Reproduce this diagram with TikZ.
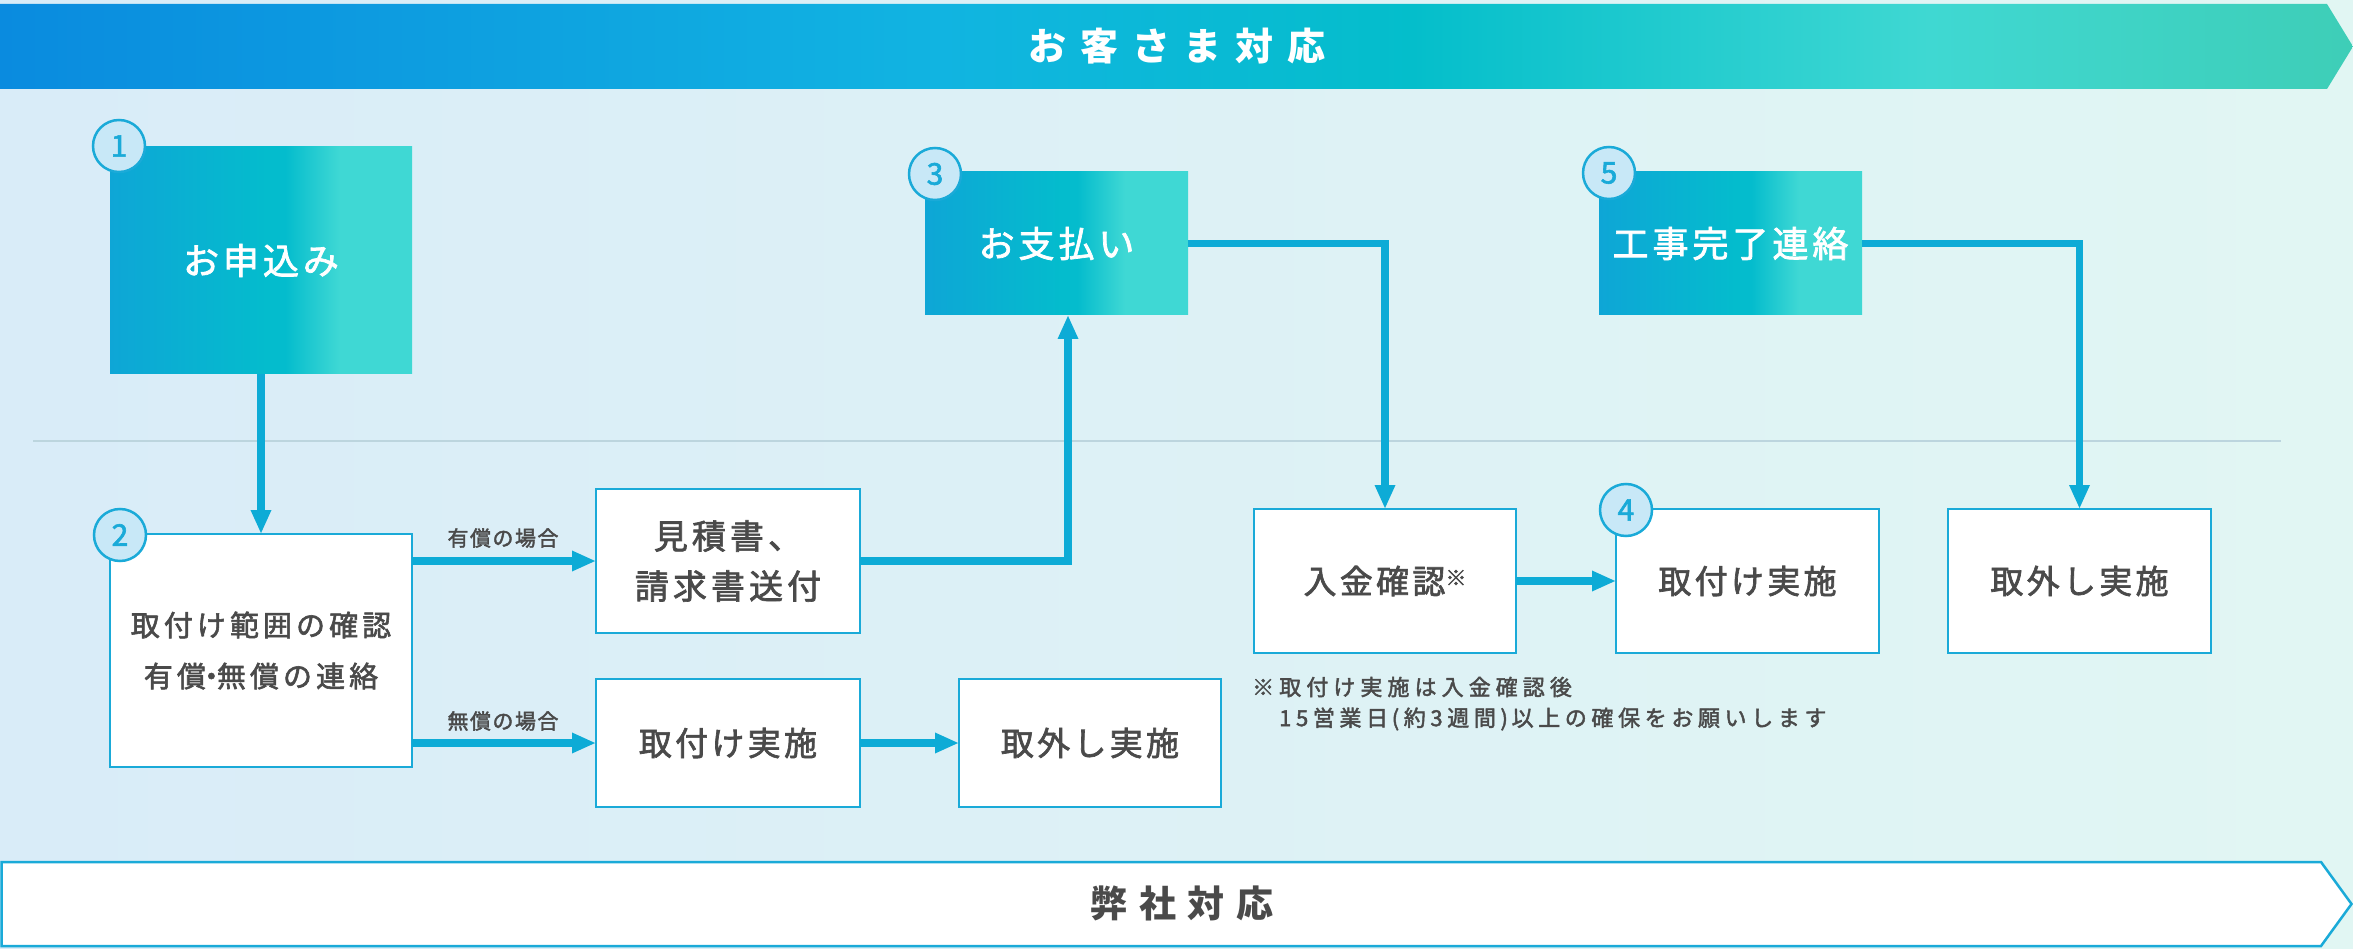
\documentclass[tikz,border=0pt]{standalone}
\usepackage{fontspec}
\newfontfamily\jp{Noto Sans CJK JP}[UprightFeatures={FakeBold=2}]
\usetikzlibrary{arrows.meta}
\definecolor{txt}{HTML}{4A4A4A}
\definecolor{cy}{HTML}{0DABD6}
\definecolor{bd}{HTML}{1AAAD8}
\definecolor{cfill}{HTML}{C8E8F7}
\definecolor{sepc}{HTML}{BCD5DE}
\definecolor{bgL}{HTML}{D9ECF8}
\definecolor{bgR}{HTML}{E1F6F3}
\definecolor{b0}{HTML}{0EA6D6}
\definecolor{b1}{HTML}{04BCCD}
\definecolor{b2}{HTML}{3FD8D4}
\definecolor{t0}{HTML}{0A8BDF}
\definecolor{t1}{HTML}{11B4E1}
\definecolor{t2}{HTML}{04BECB}
\definecolor{t3}{HTML}{3FD8D2}
\definecolor{t4}{HTML}{3ECEB7}
\pgfdeclarehorizontalshading{boxshade}{100bp}{color(0bp)=(b0); color(25bp)=(b0); color(51bp)=(b1); color(54bp)=(b1); color(63bp)=(b2); color(100bp)=(b2)}
\pgfdeclarehorizontalshading{topband}{100bp}{color(0bp)=(t0); color(25bp)=(t0); color(45bp)=(t1); color(55bp)=(t2); color(66bp)=(t3); color(75bp)=(t4); color(100bp)=(t4)}
\newcommand\lsp[2]{{\addfontfeatures{LetterSpace=#1}#2}}
\newcommand\fs[1]{\jp\fontsize{#1}{#1}\selectfont}
\begin{document}
\begin{tikzpicture}[x=1pt,y=-1pt,
  gbox/.style={shade, shading=boxshade, minimum width=263, minimum height=143, inner sep=0, outer sep=0, text=white, font=\fs{36}},
  wbox/.style={draw=bd, line width=2.5, fill=white, inner sep=0, outer sep=0, text=txt, align=center, minimum width=263, minimum height=144, font=\fs{33}},
  numc/.style={circle, draw=bd, line width=2.5, fill=cfill, text=bd, minimum size=52, inner sep=0, font=\fs{30}},
  arr/.style={cy, line width=7.5, -{Triangle[length=24,width=19]}},
  lbl/.style={text=txt, inner sep=0, font=\fs{21}},
  note/.style={text=txt, inner sep=0, anchor=west, font=\fs{22}}
]
\useasboundingbox (0,0) rectangle (2353,949);
\shade[left color=bgL, right color=bgR] (0,0) rectangle (2353,949);
% top banner
\shade[shading=topband] (0,4) -- (2327,4) -- (2353,46.5) -- (2327,89) -- (0,89) -- cycle;
\node[text=white, inner sep=0, font=\fs{38}\bfseries] (top) at (1177,46) {\lsp{36}{お客さま対応}};
% bottom banner
\draw[bd, line width=2.5, fill=white] (1.5,862) -- (2321,862) -- (2351.5,904) -- (2321,946) -- (1.5,946) -- cycle;
\node[text=txt, inner sep=0, font=\fs{37}\bfseries] (bot) at (1182,903) {\lsp{32}{弊社対応}};
% separator
\draw[sepc, line width=1.2] (33,441) -- (2281,441);
% boxes
\node[gbox, minimum width=302, minimum height=227] (b1) at (261,260.5) {\lsp{11}{お申込み}};
\node[wbox, minimum width=302, minimum height=233, font=\fs{29}] (b2) at (261,650.5) {\lsp{14}{取付け範囲の確認}\\[22pt]\lsp{14}{有償\kern-9pt・\kern-9pt無償の連絡}};
\node[wbox, minimum width=264, font=\fs{34}] (mitsu) at (728,561) {\lsp{12}{見積書、}\\[16pt]\lsp{12}{請求書送付}};
\node[wbox, minimum width=264, minimum height=128] (tori1) at (728,743) {\lsp{10}{取付け実施}};
\node[wbox, minimum width=262, minimum height=128] (hazu1) at (1090,743) {\lsp{10}{取外し実施}};
\node[gbox] (b3) at (1056.5,243.5) {\lsp{11}{お支払い}};
\node[wbox, minimum width=262] (nyukin) at (1385,581) {\lsp{10}{入金確認}\raisebox{8pt}{\fs{21}※}};
\node[wbox] (b4) at (1747.5,581) {\lsp{10}{取付け実施}};
\node[gbox] (b5) at (1730.5,243.5) {\lsp{11}{工事完了連絡}};
\node[wbox] (hazu2) at (2079.5,581) {\lsp{10}{取外し実施}};
% labels
\node[lbl] (l1) at (503,538) {\lsp{7}{有償の場合}};
\node[lbl] (l2) at (503,721) {\lsp{7}{無償の場合}};
\node[note] (f1) at (1252,687) {\lsp{23}{※取付け実施は入金確認後}};
\node[note] (f2) at (1279,719) {\lsp{21}{15営業日\,(約3週間)\,以上の確保をお願いします}};
% arrows
\draw[arr] (b1.south) -- (b2.north);
\draw[arr] (b2.east |- mitsu.west) -- (mitsu.west);
\draw[arr] (b2.east |- tori1.west) -- (tori1.west);
\draw[arr] (tori1.east) -- (hazu1.west);
\draw[arr] (mitsu.east) -| ([xshift=11.5]b3.south);
\draw[arr] (b3.east) -| (nyukin.north);
\draw[arr] (nyukin.east) -- (b4.west);
\draw[arr] (b5.east) -| (hazu2.north);
% number circles
\node[numc] (n1) at (119,146) {1};
\node[numc] (n2) at (120,535) {2};
\node[numc] (n3) at (935,174) {3};
\node[numc] (n4) at (1626,510) {4};
\node[numc] (n5) at (1609,173) {5};
\end{tikzpicture}
\end{document}
